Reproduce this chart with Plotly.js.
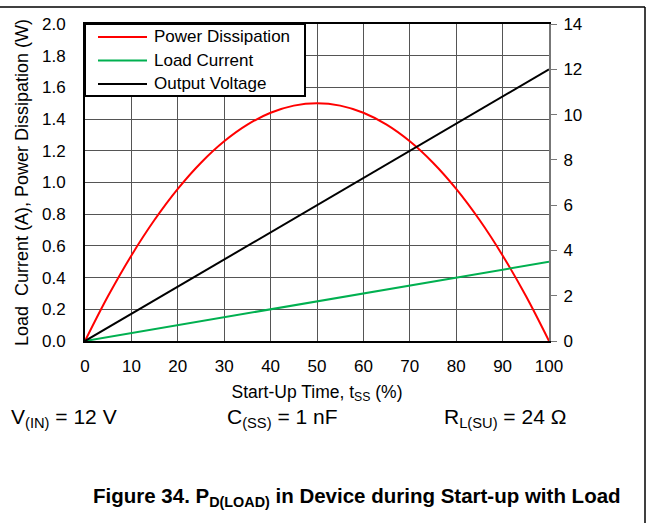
<!DOCTYPE html>
<html>
<head>
<meta charset="utf-8">
<script src="https://cdn.plot.ly/plotly-3.0.1.min.js"></script>
<style>html,body{margin:0;padding:0;background:#fff;}#chart{width:652px;height:523px;}</style>
</head>
<body>
<div id="chart"></div>
<script>
const tPct = [0,5,10,15,20,25,30,35,40,45,50,55,60,65,70,75,80,85,90,95,100];
const powerW = [0,0.285,0.54,0.765,0.96,1.125,1.26,1.365,1.44,1.485,1.5,1.485,1.44,1.365,1.26,1.125,0.96,0.765,0.54,0.285,0];
const tLin = [0,10,20,30,40,50,60,70,80,90,100];
const currentA = [0,0.05,0.10,0.15,0.20,0.25,0.30,0.35,0.40,0.45,0.50];
const voltageV = [0,1.2,2.4,3.6,4.8,6.0,7.2,8.4,9.6,10.8,12.0];
const seriesNames = ["Power Dissipation","Load Current","Output Voltage"];
const seriesColors = ["#ff0000","#00b050","#000000"];
const notes = ["V<sub>(IN)</sub> = 12 V","C<sub>(SS)</sub> = 1 nF","R<sub>L(SU)</sub> = 24 Ω"];
const caption = "<b>Figure 34. P<sub>D(LOAD)</sub> in Device during Start-up with Load</b>";

const W = 652, H = 523, L = 85, R = 103, T = 24, B = 182;
const pw = W - L - R, ph = H - T - B;
const px = v => (v - L) / pw;
const py = v => 1 - (v - T) / ph;
const FONT = "Arial, 'Liberation Sans', sans-serif";

const traces = [
  {x: tPct, y: powerW, name: seriesNames[0], mode: "lines", line: {color: seriesColors[0], width: 2, shape: "spline"}, yaxis: "y"},
  {x: tLin, y: currentA, name: seriesNames[1], mode: "lines", line: {color: seriesColors[1], width: 2}, yaxis: "y"},
  {x: tLin, y: voltageV, name: seriesNames[2], mode: "lines", line: {color: seriesColors[2], width: 2}, yaxis: "y2"}
];

// legend drawn as a box with samples and labels
const legendRows = [37, 60.5, 84];
const legendShapes = [
  {type: "rect", xref: "paper", yref: "paper", x0: px(85), x1: px(305), y0: py(24), y1: py(96),
   fillcolor: "#fff", line: {color: "#000", width: 2}, layer: "above"}
].concat(legendRows.map((r, i) => ({
  type: "line", xref: "paper", yref: "paper", x0: px(98), x1: px(147), y0: py(r), y1: py(r),
  line: {color: seriesColors[i], width: 2}, layer: "above"
})));
const legendLabels = legendRows.map((r, i) => ({
  text: seriesNames[i], xref: "paper", yref: "paper", x: px(152), y: py(r), xanchor: "left", yanchor: "middle",
  showarrow: false, font: {size: 17}
}));

const layout = {
  width: W, height: H,
  margin: {l: L, r: R, t: T, b: B, pad: 0},
  paper_bgcolor: "#fff", plot_bgcolor: "#fff",
  font: {family: FONT, color: "#000", size: 17},
  showlegend: false,
  xaxis: {range: [0, 100], dtick: 10, tick0: 0, showgrid: true, gridcolor: "#555", gridwidth: 1,
          showline: true, linecolor: "#000", linewidth: 2, mirror: true, ticks: "", zeroline: false,
          tickfont: {size: 17}, ticklabelstandoff: 9,
          title: {text: "Start-Up Time, t<sub>SS</sub> (%)", font: {size: 17.5}, standoff: 10}},
  yaxis: {range: [0, 2], dtick: 0.2, tick0: 0, tickformat: ".1f", showgrid: true, gridcolor: "#555", gridwidth: 1,
          showline: true, linecolor: "#000", linewidth: 2, ticks: "", zeroline: false,
          tickfont: {size: 17}, ticklabelstandoff: 14,
          title: {text: "Load  Current (A), Power Dissipation (W)", font: {size: 18}, standoff: 9}},
  yaxis2: {range: [0, 14], dtick: 2, tick0: 0, overlaying: "y", side: "right", showgrid: false,
           showline: true, linecolor: "#777", linewidth: 2, ticks: "outside", ticklen: 6, tickcolor: "#777",
           zeroline: false, tickfont: {size: 17}, ticklabelstandoff: 3},
  annotations: [
    {text: notes[0], xref: "paper", yref: "paper", x: px(9), y: py(418), xanchor: "left", yanchor: "middle", showarrow: false, font: {size: 21}},
    {text: notes[1], xref: "paper", yref: "paper", x: px(225), y: py(418), xanchor: "left", yanchor: "middle", showarrow: false, font: {size: 21}},
    {text: notes[2], xref: "paper", yref: "paper", x: px(442), y: py(418), xanchor: "left", yanchor: "middle", showarrow: false, font: {size: 21}},
    {text: caption, xref: "paper", yref: "paper", x: px(357), y: py(497), xanchor: "center", yanchor: "middle", showarrow: false, font: {size: 20.5}}
  ].concat(legendLabels),
  shapes: [
    {type: "line", xref: "paper", yref: "paper", x0: px(0), x1: px(645), y0: py(7), y1: py(7), line: {color: "#000", width: 1.5}},
    {type: "line", xref: "paper", yref: "paper", x0: px(645), x1: px(645), y0: py(7), y1: py(523), line: {color: "#000", width: 1.5}}
  ].concat(legendShapes)
};

Plotly.newPlot("chart", traces, layout, {staticPlot: true, displayModeBar: false});
</script>
</body>
</html>
